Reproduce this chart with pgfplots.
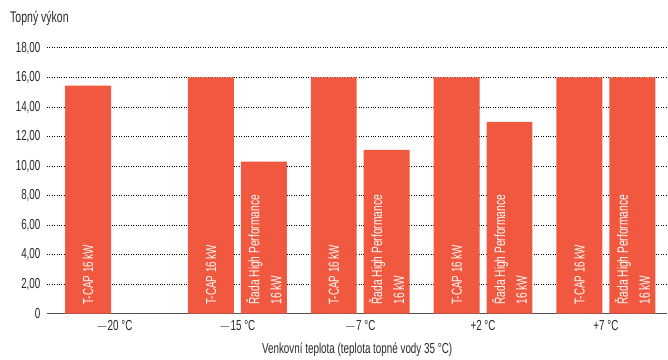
\documentclass[border=0pt]{standalone}
\usepackage{fontspec}
\setmainfont{Liberation Sans}[FakeStretch=0.68]
\usepackage{pgfplots}
\pgfplotsset{compat=1.18}
\definecolor{barred}{RGB}{240,88,64}
\definecolor{txt}{RGB}{40,40,40}

\begin{document}
\begin{tikzpicture}
\begin{axis}[
  scale only axis,
  width=621pt, height=266pt,
  ybar=7pt, bar width=46pt,
  xmin=-0.55, xmax=4.5,
  ymin=0, ymax=18,
  xtick={0,1,2,3,4},
  xticklabels={$-$20 °C,$-$15 °C,$-$7 °C,+2 °C,+7 °C},
  ytick={0,2,4,6,8,10,12,14,16,18},
  yticklabels={0,{2,00},{4,00},{6,00},{8,00},{10,00},{12,00},{14,00},{16,00},{18,00}},
  /pgf/number format/assume math mode=true,
  ymajorgrids,
  grid style={black, dotted, line width=1pt},
  axis x line*=bottom,
  axis y line*=left,
  y axis line style={draw=none},
  x axis line style={draw=txt!80, line width=1.4pt, -},
  major tick length=0pt,
  tick label style={font=\fontsize{14.5}{16}\selectfont, text=txt},
  yticklabel style={xshift=-3pt},
  xticklabel style={yshift=-3pt},
  xlabel={Venkovní teplota (teplota topné vody 35 °C)},
  xlabel style={font=\fontsize{14.5}{16}\selectfont, text=txt, yshift=-4pt},
  clip=false,
]
\addplot[draw=none, fill=barred] coordinates {(0,15.45) (1,16) (2,16) (3,16) (4,16)};
\addplot[draw=none, fill=barred] coordinates {(1,10.3) (2,11.1) (3,13.0) (4,16)};

\foreach \i in {0,...,4} {
  \edef\tmp{\noexpand\node[rotate=90, anchor=west, text=white, font=\noexpand\fontsize{14.5}{16}\noexpand\selectfont, inner sep=0pt]
    at ([xshift=-26.5pt, yshift=9pt]axis cs:\i,0) {T-CAP 16 kW};}
  \tmp
}
\foreach \i in {1,...,4} {
  \edef\tmp{\noexpand\node[rotate=90, anchor=west, text=white, align=left, font=\noexpand\fontsize{15}{22}\noexpand\selectfont, inner sep=0pt]
    at ([xshift=26.5pt, yshift=9pt]axis cs:\i,0) {Řada High Performance\noexpand\\16 kW};}
  \tmp
}
\node[anchor=west, text=txt, font=\fontsize{15.5}{17}\selectfont, inner sep=0pt]
  at ([xshift=-37pt, yshift=30pt]rel axis cs:0,1) {Topný výkon};
\path ([yshift=48pt]rel axis cs:0,1) coordinate (topedge);
\path ([xshift=-47pt]rel axis cs:0,0) coordinate (leftedge);
\end{axis}
\end{tikzpicture}
\end{document}
